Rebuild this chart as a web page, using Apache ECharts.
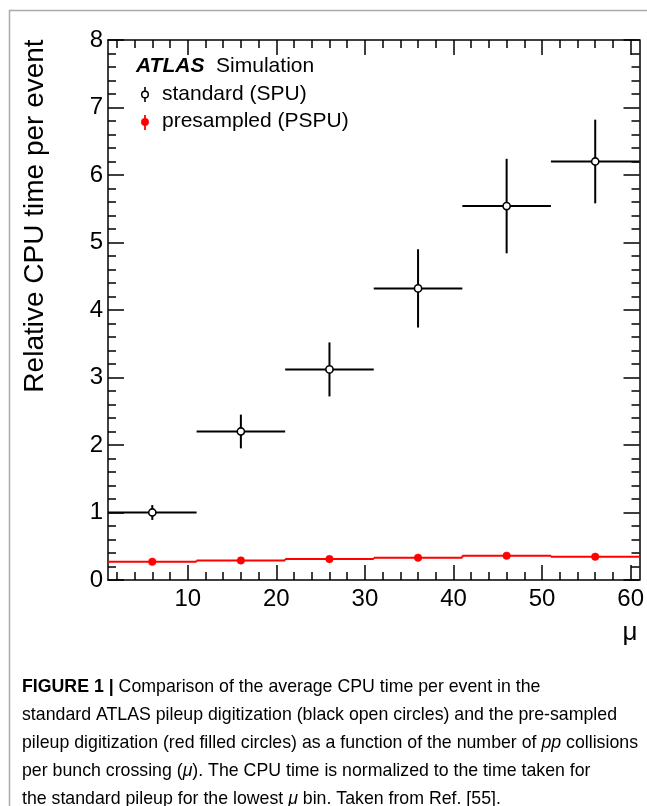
<!DOCTYPE html>
<html><head><meta charset="utf-8">
<script src="https://cdn.jsdelivr.net/npm/echarts@6/dist/echarts.min.js"></script>
<style>html,body{margin:0;padding:0;background:#fff}#c{width:647px;height:806px}</style>
</head><body><div id="c"></div>
<script>
// ---- data ----
const binEdges = [1, 11, 21, 31, 41, 51, 61];
const muCenters = [6, 16, 26, 36, 46, 56];
const spuValues = [1.00, 2.20, 3.12, 4.32, 5.54, 6.20];
const spuErrors = [0.11, 0.25, 0.40, 0.58, 0.70, 0.62];
const pspuValues = [0.27, 0.29, 0.31, 0.33, 0.36, 0.345];
const pspuErrors = [0.01, 0.01, 0.01, 0.01, 0.01, 0.01];
const xMajorTicks = [10, 20, 30, 40, 50, 60];
const xMinorTicks = [2,4,6,8,12,14,16,18,22,24,26,28,32,34,36,38,42,44,46,48,52,54,56,58];
const yMin = 0, yMax = 8, yInterval = 1;
const yTitle = 'Relative CPU time per event';
const xTitle = 'μ';
const legendLabels = ['standard (SPU)', 'presampled (PSPU)'];

const FONT = '"Liberation Sans", Arial, Helvetica, sans-serif';
const CAPFONT = '"Liberation Sans", Arial, sans-serif';
const CAPSIZE = 19;

const spuData = muCenters.map((m, i) => [binEdges[i], binEdges[i + 1], m, spuValues[i], spuErrors[i]]);
const pspuData = muCenters.map((m, i) => [binEdges[i], binEdges[i + 1], m, pspuValues[i], pspuErrors[i], i > 0 ? pspuValues[i - 1] : pspuValues[i]]);

function renderSPU(params, api) {
  const xlo = api.value(0), xhi = api.value(1), xc = api.value(2), v = api.value(3), e = api.value(4);
  const pL = api.coord([xlo, v]), pR = api.coord([xhi, v]);
  const pT = api.coord([xc, v + e]), pB = api.coord([xc, v - e]), pC = api.coord([xc, v]);
  const ls = { stroke: '#000', lineWidth: 2 };
  return { type: 'group', children: [
    { type: 'line', shape: { x1: pL[0], y1: pL[1], x2: pR[0], y2: pR[1] }, style: ls },
    { type: 'line', shape: { x1: pT[0], y1: pT[1], x2: pB[0], y2: pB[1] }, style: ls },
    { type: 'circle', shape: { cx: pC[0], cy: pC[1], r: 3.6 }, style: { fill: '#fff', stroke: '#000', lineWidth: 1.6 } }
  ]};
}
function renderPSPU(params, api) {
  const xlo = api.value(0), xhi = api.value(1), xc = api.value(2), v = api.value(3), e = api.value(4), pv = api.value(5);
  const pL = api.coord([xlo, v]), pR = api.coord([xhi, v]), pP = api.coord([xlo, pv]);
  const pT = api.coord([xc, v + e]), pB = api.coord([xc, v - e]), pC = api.coord([xc, v]);
  const ls = { stroke: '#f00', lineWidth: 2 };
  return { type: 'group', children: [
    { type: 'line', shape: { x1: pP[0], y1: pP[1], x2: pL[0], y2: pL[1] }, style: ls },
    { type: 'line', shape: { x1: pL[0], y1: pL[1], x2: pR[0], y2: pR[1] }, style: ls },
    { type: 'line', shape: { x1: pT[0], y1: pT[1], x2: pB[0], y2: pB[1] }, style: ls },
    { type: 'circle', shape: { cx: pC[0], cy: pC[1], r: 3.8 }, style: { fill: '#f00', stroke: '#f00', lineWidth: 0.5 } }
  ]};
}

const axisLineStyle = { color: '#000', width: 1.5 };
function xAx(pos, ticks, len, labels, showLine) {
  return {
    type: 'value', position: pos, min: binEdges[0], max: binEdges[binEdges.length - 1],
    axisLine: { show: showLine, onZero: false, lineStyle: axisLineStyle },
    axisTick: { show: true, inside: true, length: len, customValues: ticks, lineStyle: { color: '#000', width: 1.5 } },
    axisLabel: labels ? { show: true, customValues: ticks, fontSize: 24, color: '#000', fontFamily: FONT, margin: 7 } : { show: false },
    splitLine: { show: false }
  };
}
function yAx(pos, labels) {
  return {
    type: 'value', position: pos, min: yMin, max: yMax, interval: yInterval,
    axisLine: { show: true, onZero: false, lineStyle: axisLineStyle },
    axisTick: { show: true, inside: true, length: 16, lineStyle: { color: '#000', width: 1.5 } },
    minorTick: { show: true, splitNumber: 5, length: 8, lineStyle: { color: '#000', width: 1.5 } },
    axisLabel: labels ? { show: true, fontSize: 24, color: '#000', fontFamily: FONT, margin: 5 } : { show: false },
    splitLine: { show: false }, minorSplitLine: { show: false }
  };
}

const captionLines = [
  [{ t: 'FIGURE 1 | ', s: 'b' }, { t: 'Comparison of the average CPU time per event in the' }],
  [{ t: 'standard ATLAS pileup digitization (black open circles) and the pre-sampled' }],
  [{ t: 'pileup digitization (red filled circles) as a function of the number of ' }, { t: 'pp', s: 'i' }, { t: ' collisions' }],
  [{ t: 'per bunch crossing (' }, { t: 'μ', s: 'i' }, { t: '). The CPU time is normalized to the time taken for' }],
  [{ t: 'the standard pileup for the lowest ' }, { t: 'μ', s: 'i' }, { t: ' bin. Taken from Ref. [' }, { t: '55', s: 'g' }, { t: '].' }]
];
// layout: rendered width of each caption line in the figure (px)
const captionLineWidths = [523, 614, 611, 544, 500];

const mctx = document.createElement('canvas').getContext('2d');
function partFont(s) {
  const w = s === 'b' ? 'bold ' : '';
  const st = s === 'i' ? 'italic ' : '';
  return st + w + CAPSIZE + 'px ' + CAPFONT;
}
function measureLine(parts) {
  return parts.reduce((acc, p) => { mctx.font = partFont(p.s); return acc + mctx.measureText(p.t).width; }, 0);
}
const natWidths = captionLines.map(measureLine);
const meanScale = natWidths.reduce((a, w, i) => a + captionLineWidths[i] / w, 0) / natWidths.length;
const capScale = Math.min(meanScale, ...natWidths.map(w => 616 / w));

const capY0 = 687, capDY = 28;
const capGraphics = captionLines.map((parts, li) => {
  const text = parts.map(p => p.s ? '{' + p.s + '|' + p.t + '}' : '{n|' + p.t + '}').join('');
  return {
    type: 'text', x: 22, y: capY0 + li * capDY, scaleX: capScale,
    style: {
      text: text, verticalAlign: 'middle', align: 'left',
      rich: {
        n: { fontFamily: CAPFONT, fontSize: CAPSIZE, color: '#333' },
        b: { fontFamily: CAPFONT, fontSize: CAPSIZE, color: '#222', fontWeight: 'bold' },
        i: { fontFamily: CAPFONT, fontSize: CAPSIZE, color: '#333', fontStyle: 'italic' },
        g: { fontFamily: CAPFONT, fontSize: CAPSIZE, color: '#999' }
      }
    }
  };
});

const chart = echarts.init(document.getElementById('c'), null, { renderer: 'canvas' });
chart.setOption({
  backgroundColor: '#fff',
  animation: false,
  grid: { left: 108, right: 6, top: 40, bottom: 226, containLabel: false },
  xAxis: [
    xAx('bottom', xMajorTicks, 15, true, true),
    xAx('bottom', xMinorTicks, 8, false, false),
    xAx('top', xMajorTicks, 15, false, true),
    xAx('top', xMinorTicks, 8, false, false)
  ],
  yAxis: [ yAx('left', true), yAx('right', false) ],
  series: [
    { type: 'custom', name: legendLabels[1], xAxisIndex: 0, yAxisIndex: 0, renderItem: renderPSPU, data: pspuData, encode: { x: [0, 1], y: 3 }, z: 3 },
    { type: 'custom', name: legendLabels[0], xAxisIndex: 0, yAxisIndex: 0, renderItem: renderSPU, data: spuData, encode: { x: [0, 1], y: 3 }, z: 4 }
  ],
  graphic: [
    { type: 'polyline', shape: { points: [[647, 10.5], [9.5, 10.5], [9.5, 806]] }, style: { stroke: '#aaa', lineWidth: 1.5, fill: null } },
    { type: 'text', x: 35, y: 216, rotation: Math.PI / 2,
      style: { text: yTitle, fontSize: 28, fontFamily: FONT, fill: '#000', align: 'center', verticalAlign: 'middle' } },
    { type: 'text', x: 630, y: 633,
      style: { text: xTitle, fontSize: 26, fontFamily: FONT, fill: '#000', align: 'center', verticalAlign: 'middle' } },
    { type: 'text', x: 136, y: 66,
      style: { text: '{a|ATLAS}{s|  Simulation}', verticalAlign: 'middle',
        rich: { a: { fontSize: 21, fontFamily: FONT, fontWeight: 'bold', fontStyle: 'italic', color: '#000' },
                s: { fontSize: 21, fontFamily: FONT, color: '#000' } } } },
    { type: 'line', shape: { x1: 145, y1: 87, x2: 145, y2: 102 }, style: { stroke: '#000', lineWidth: 1.6 } },
    { type: 'circle', shape: { cx: 145, cy: 94.5, r: 3.3 }, style: { fill: '#fff', stroke: '#000', lineWidth: 1.5 } },
    { type: 'text', x: 162, y: 94, style: { text: legendLabels[0], fontSize: 21, fontFamily: FONT, fill: '#000', verticalAlign: 'middle' } },
    { type: 'line', shape: { x1: 145, y1: 115, x2: 145, y2: 130 }, style: { stroke: '#f00', lineWidth: 1.8 } },
    { type: 'circle', shape: { cx: 145, cy: 122, r: 3.8 }, style: { fill: '#f00', stroke: '#f00', lineWidth: 0.5 } },
    { type: 'text', x: 162, y: 121, style: { text: legendLabels[1], fontSize: 21, fontFamily: FONT, fill: '#000', verticalAlign: 'middle' } }
  ].concat(capGraphics)
});
</script>
</body></html>
